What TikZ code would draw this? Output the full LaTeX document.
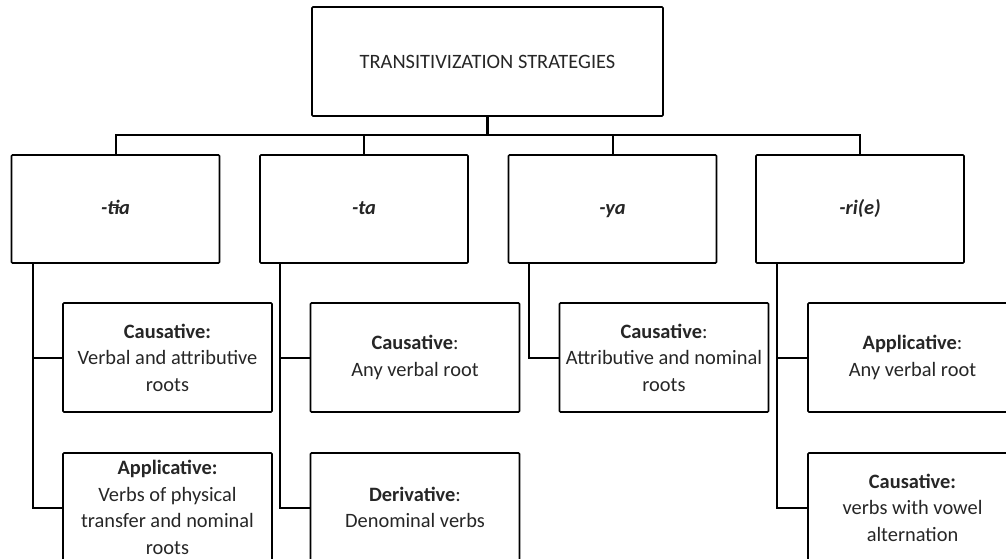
\documentclass[tikz,border=0pt]{standalone}
\usepackage{fontspec}
\setmainfont{Carlito}
\newcommand{\barredi}{i\kern0.05em\llap{\rule[0.27em]{0.34em}{0.07em}}\kern-0.05em}
\begin{document}
\begin{tikzpicture}[x=1pt,y=-1pt,
  box/.style={draw=black, line width=1.6pt, rounded corners=1pt, fill=white,
    align=center, inner sep=1pt, text=black!85,
    font=\fontsize{20.4}{26.5}\selectfont},
  topbox/.style={box, minimum width=351pt, minimum height=109pt},
  midbox/.style={box, minimum width=208pt, minimum height=108pt,
    text height=14pt, text depth=4pt},
  leafbox/.style={box, minimum width=209pt, minimum height=109pt},
  conn/.style={draw=black, line width=2pt},
  stem/.style={draw=black, line width=2.6pt}
]
\useasboundingbox (0,0) rectangle (1006,558);
\clip (0,0) rectangle (1006,558);

\node[topbox] (top) at (487.5,61.5) {TRANSITIVIZATION STRATEGIES};

\node[midbox] (b1) at (115.5,209) {\textbf{\textit{-t\barredi a}}};
\node[midbox] (b2) at (364,209) {\textbf{\textit{-ta}}};
\node[midbox] (b3) at (612.5,209) {\textbf{\textit{-ya}}};
\node[midbox] (b4) at (860,209) {\textbf{\textit{-ri(e)}}};

\node[leafbox] (c1) at (167.5,357.5) {\textbf{Causative:}\\Verbal and attributive\\roots};
\node[leafbox] (a1) at (167.5,507.5) {\textbf{Applicative:}\\Verbs of physical\\transfer and nominal\\roots};
\node[leafbox] (c2) at (415,357.5) {\textbf{Causative}:\\Any verbal root};
\node[leafbox] (d2) at (415,507.5) {\textbf{Derivative}:\\Denominal verbs};
\node[leafbox] (c3) at (664,357.5) {\textbf{Causative}:\\Attributive and nominal\\roots};
\node[leafbox] (a4) at (912.5,357.5) {\textbf{Applicative}:\\Any verbal root};
\node[leafbox] (c4) at (912.5,507.5) {\textbf{Causative:}\\verbs with vowel\\alternation};

% top connectors
\coordinate (bar) at (487.5,135);
\draw[stem] (top.south) -- (bar);
\draw[conn] (b1.north) |- (bar) -| (b4.north);
\draw[conn] (b2.north) -- (b2.north |- bar);
\draw[conn] (b3.north) -- (b3.north |- bar);

% trunks
\draw[conn] ([xshift=22pt]b1.south west) |- (c1.west);
\draw[conn] ([xshift=22pt]b1.south west) |- (a1.west);
\draw[conn] ([xshift=21pt]b2.south west) |- (c2.west);
\draw[conn] ([xshift=21pt]b2.south west) |- (d2.west);
\draw[conn] ([xshift=21pt]b3.south west) |- (c3.west);
\draw[conn] ([xshift=22pt]b4.south west) |- (a4.west);
\draw[conn] ([xshift=22pt]b4.south west) |- (c4.west);
\end{tikzpicture}
\end{document}
